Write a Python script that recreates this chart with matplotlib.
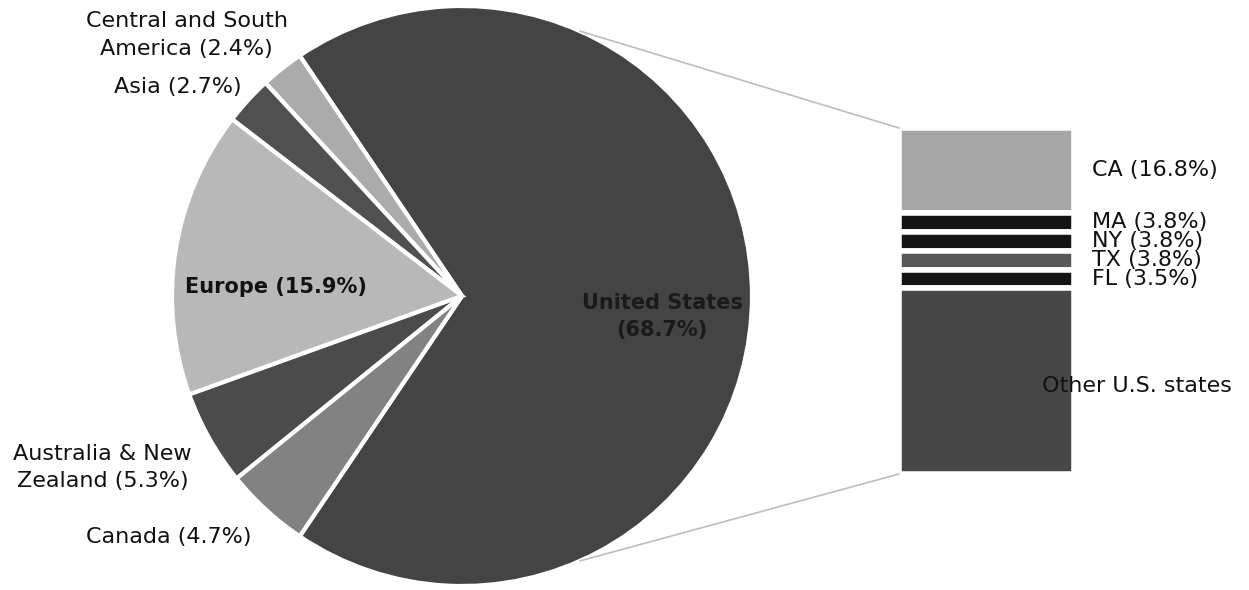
import numpy as np
import matplotlib
matplotlib.use("Agg")
import matplotlib.pyplot as plt
from matplotlib.patches import ConnectionPatch

plt.rcParams['font.family'] = ['DejaVu Sans']

# Share of students by region (%)
regions = ['United States', 'Central and South America', 'Asia', 'Europe',
           'Australia & New Zealand', 'Canada']
region_share = [68.7, 2.4, 2.7, 15.9, 5.3, 4.7]
region_colors = ['#444444', '#ababab', '#505050', '#b8b8b8', '#4b4b4b', '#828282']

# Breakdown of the U.S. share by state (% of all students)
states = ['CA', 'MA', 'NY', 'TX', 'FL', 'Other U.S. states']
state_share = [16.8, 3.8, 3.8, 3.8, 3.5, 37.0]
state_colors = ['#a6a6a6', '#141414', '#141414', '#575757', '#141414', '#474747']

W, H = 1249, 590
fig = plt.figure(figsize=(W / 100, H / 100), dpi=100)

# Pie of regions
ax_pie = fig.add_axes([172 / W, 4 / H, 580 / W, 580 / H])
start = -0.5 * 360 * region_share[0] / sum(region_share)
wedges, _ = ax_pie.pie(region_share, colors=region_colors, startangle=start,
                       counterclock=True,
                       wedgeprops=dict(edgecolor='white', linewidth=3))
ax_pie.set_xlim(-1, 1)
ax_pie.set_ylim(-1, 1)
ax_pie.set_aspect('equal')
ax_pie.axis('off')

# Region labels (text, position in pie units, bold, colour)
region_labels = [
    ('United States\n(68.7%)', (0.69, -0.07), True, '#1a1a1a'),
    ('Central and South\nAmerica (2.4%)', (-0.95, 0.90), False, '#111111'),
    ('Asia (2.7%)', (-0.98, 0.72), False, '#111111'),
    ('Europe (15.9%)', (-0.64, 0.03), True, '#111111'),
    ('Australia & New\nZealand (5.3%)', (-1.24, -0.59), False, '#111111'),
    ('Canada (4.7%)', (-1.01, -0.83), False, '#111111'),
]
for text, (x, y), bold, col in region_labels:
    ax_pie.text(x, y, text, ha='center', va='center', fontsize=15 if bold else 16,
                fontweight='bold' if bold else 'normal', color=col,
                linespacing=1.45)

# Stacked bar of U.S. states
ax_bar = fig.add_axes([899 / W, 116 / H, 175 / W, 346 / H])
total = sum(state_share)
top = total
for name, v, c in zip(states, state_share, state_colors):
    ax_bar.bar(0.5, v, width=1.0, bottom=top - v, color=c,
               edgecolor='white', linewidth=4)
    other = name.startswith('Other')
    label = name if other else f'{name} ({v:.1f}%)'
    ax_bar.text(0.82 if other else 1.1, top - v / 2 - (1.0 if other else 0), label,
                ha='left', va='center', fontsize=16, color='#111111')
    top -= v
ax_bar.set_xlim(0, 1)
ax_bar.set_ylim(0, total)
ax_bar.axis('off')

# Lines joining the U.S. wedge to the bar
ang = np.deg2rad(66)
for sign, ybar in [(1, total), (-1, 0)]:
    con = ConnectionPatch(xyA=(np.cos(ang), sign * np.sin(ang)), coordsA=ax_pie.transData,
                          xyB=(0, ybar), coordsB=ax_bar.transData,
                          color='#bdbdbd', linewidth=1.2)
    fig.add_artist(con)

fig.savefig('out.png', dpi=100, facecolor='white')
